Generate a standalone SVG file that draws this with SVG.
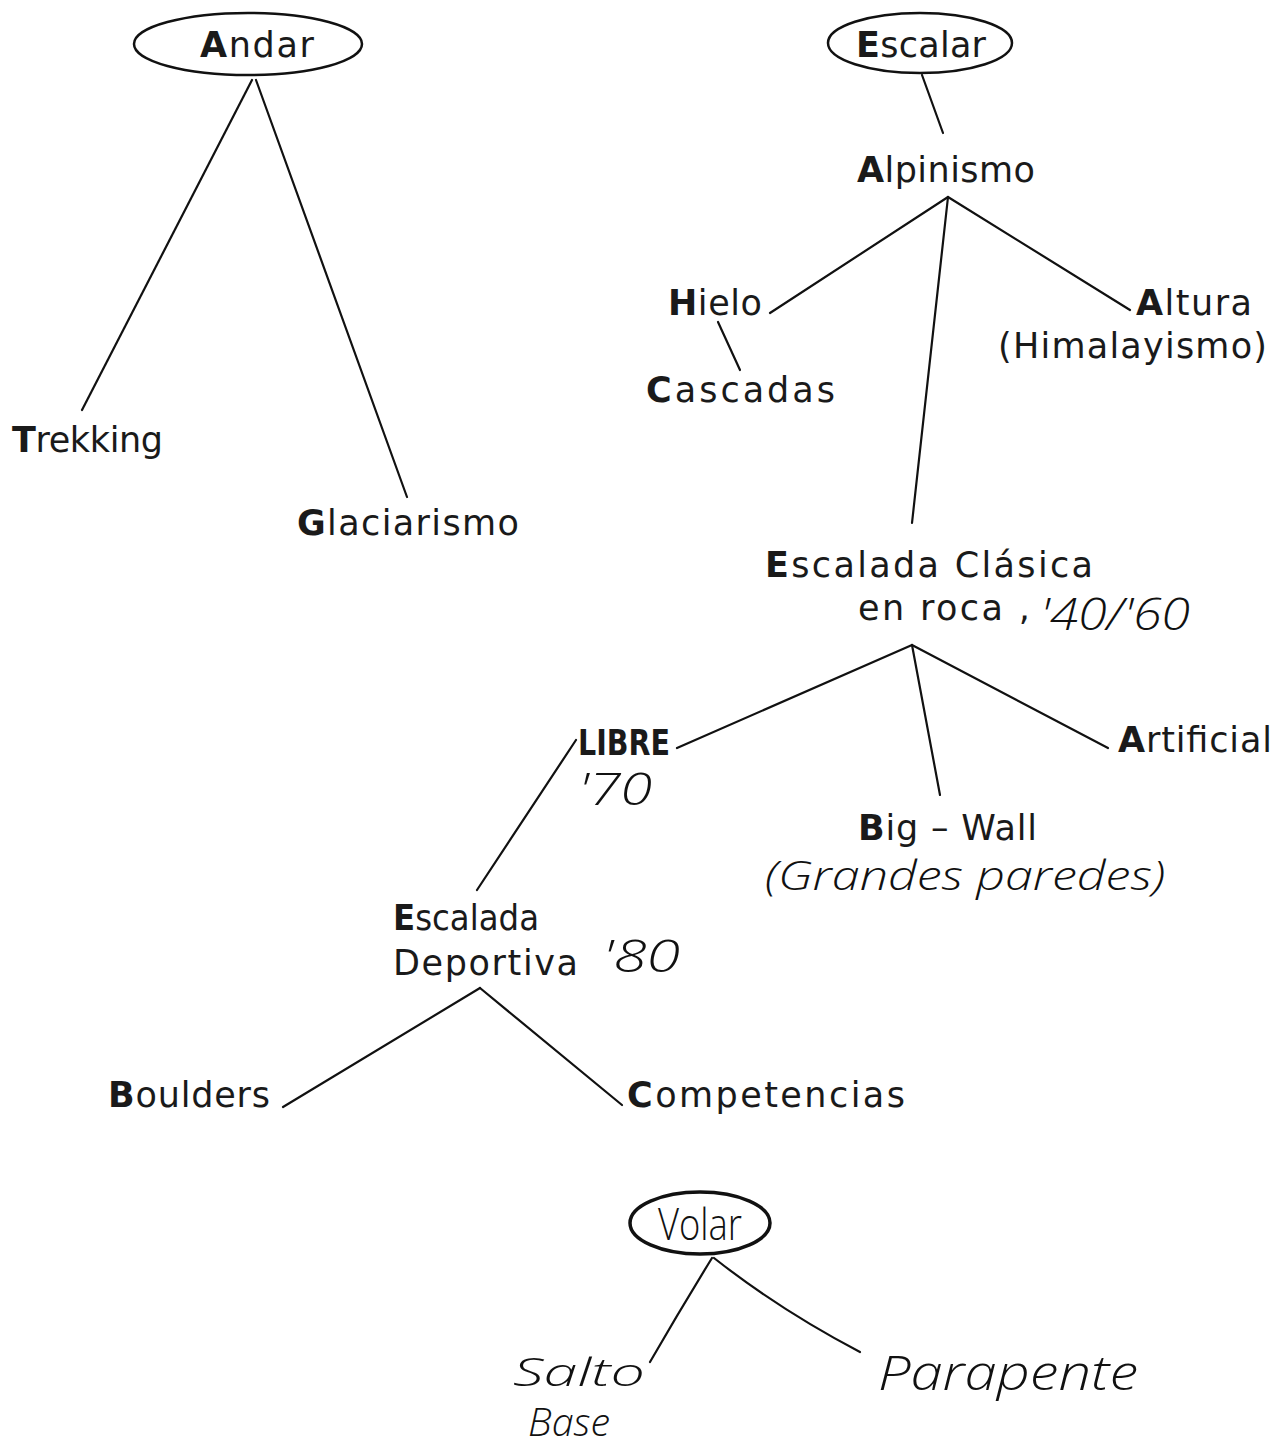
<svg xmlns="http://www.w3.org/2000/svg" width="1283" height="1448" viewBox="0 0 1283 1448">
<style>
.t{font-family:"DejaVu Sans",sans-serif;font-size:35px;fill:#1a1a1a}
.b{font-weight:bold}
.h{font-family:"Open Sans","DejaVu Sans",sans-serif;font-size:44px;fill:#111;font-weight:300;font-style:italic}
.e{fill:none;stroke:#111;stroke-width:2.5}
.c line,.c path{stroke:#111;stroke-width:2.2;fill:none;stroke-linecap:round}
</style>
<rect width="1283" height="1448" fill="#fff"/>
<g class="c" id="connectors">
<line x1="252" y1="80" x2="82" y2="410"/>
<line x1="256" y1="80" x2="407" y2="497"/>
<line x1="922" y1="75" x2="943" y2="133"/>
<line x1="948" y1="197" x2="770" y2="313"/>
<line x1="948" y1="197" x2="1130" y2="310"/>
<line x1="948" y1="197" x2="912" y2="523"/>
<line x1="718" y1="322" x2="740" y2="370"/>
<line x1="912" y1="645" x2="677" y2="748"/>
<line x1="912" y1="645" x2="940" y2="795"/>
<line x1="912" y1="645" x2="1108" y2="748"/>
<line x1="576" y1="740" x2="477" y2="890"/>
<line x1="480" y1="988" x2="283" y2="1107"/>
<line x1="480" y1="988" x2="622" y2="1105"/>
<path d="M712 1258 Q680 1310 650 1362"/>
<path d="M714 1258 Q780 1310 860 1352"/>
</g>
<g id="andar"><ellipse class="e" cx="248" cy="44" rx="114" ry="31"/><text class="t" x="200" y="57" textLength="114" lengthAdjust="spacing"><tspan class="b">A</tspan>ndar</text></g>
<g id="trekking"><text class="t" x="12" y="452" textLength="151" lengthAdjust="spacing"><tspan class="b">T</tspan>rekking</text></g>
<g id="glaciarismo"><text class="t" x="297" y="535" textLength="222" lengthAdjust="spacing"><tspan class="b">G</tspan>laciarismo</text></g>
<g id="escalar"><ellipse class="e" cx="920" cy="43" rx="92" ry="30"/><text class="t" x="856" y="57" textLength="130" lengthAdjust="spacing"><tspan class="b">E</tspan>scalar</text></g>
<g id="alpinismo"><text class="t" x="857" y="182" textLength="178" lengthAdjust="spacing"><tspan class="b">A</tspan>lpinismo</text></g>
<g id="hielo"><text class="t" x="668" y="315" textLength="94" lengthAdjust="spacing"><tspan class="b">H</tspan>ielo</text></g>
<g id="cascadas"><text class="t" x="646" y="402" textLength="189" lengthAdjust="spacing"><tspan class="b">C</tspan>ascadas</text></g>
<g id="altura"><text class="t" x="1136" y="315" textLength="116" lengthAdjust="spacing"><tspan class="b">A</tspan>ltura</text><text class="t" x="998" y="358" textLength="269" lengthAdjust="spacing">(Himalayismo)</text></g>
<g id="clasica"><text class="t" x="765" y="577" textLength="328" lengthAdjust="spacing"><tspan class="b">E</tspan>scalada Clásica</text><text class="t" x="858" y="620" textLength="172" lengthAdjust="spacing">en roca ,</text><text class="h" x="1040" y="630" textLength="150" lengthAdjust="spacingAndGlyphs">'40/'60</text></g>
<g id="libre"><text class="t b" x="578" y="755" textLength="92" lengthAdjust="spacingAndGlyphs">LIBRE</text><text class="h" x="578" y="805" textLength="74" lengthAdjust="spacingAndGlyphs">'70</text></g>
<g id="artificial"><text class="t" x="1118" y="752" textLength="154" lengthAdjust="spacing"><tspan class="b">A</tspan>rtificial</text></g>
<g id="bigwall"><text class="t" x="858" y="840" textLength="179" lengthAdjust="spacing"><tspan class="b">B</tspan>ig – Wall</text><text class="h" x="765" y="890" textLength="400" lengthAdjust="spacingAndGlyphs" style="font-size:40px">(Grandes paredes)</text></g>
<g id="deportiva"><text class="t" x="393" y="930" textLength="146" lengthAdjust="spacingAndGlyphs"><tspan class="b">E</tspan>scalada</text><text class="t" x="393" y="975" textLength="185" lengthAdjust="spacing">Deportiva</text><text class="h" x="602" y="972" textLength="78" lengthAdjust="spacingAndGlyphs">'80</text></g>
<g id="boulders"><text class="t" x="108" y="1107" textLength="162" lengthAdjust="spacing"><tspan class="b">B</tspan>oulders</text></g>
<g id="competencias"><text class="t" x="627" y="1107" textLength="278" lengthAdjust="spacing"><tspan class="b">C</tspan>ompetencias</text></g>
<g id="volar"><ellipse class="e" cx="700" cy="1223" rx="70" ry="31" style="stroke-width:3.5"/><text class="h" x="658" y="1240" textLength="84" lengthAdjust="spacingAndGlyphs" style="font-style:normal">Volar</text></g>
<g id="salto"><text class="h" x="513" y="1386" textLength="132" lengthAdjust="spacingAndGlyphs" style="font-size:38px">Salto</text><text class="h" x="528" y="1436" textLength="82" lengthAdjust="spacingAndGlyphs" style="font-size:38px">Base</text></g>
<g id="parapente"><text class="h" x="878" y="1390" textLength="260" lengthAdjust="spacingAndGlyphs" style="font-size:48px">Parapente</text></g>
</svg>
